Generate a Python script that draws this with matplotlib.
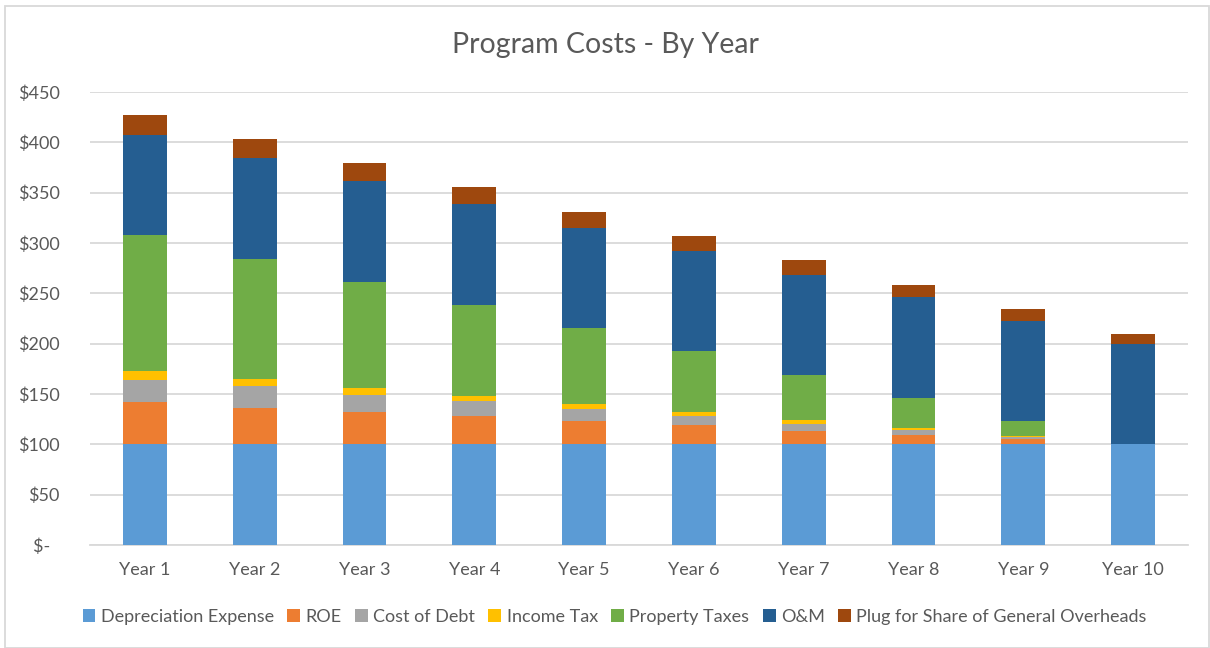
import numpy as np
import matplotlib
matplotlib.use("Agg")
from matplotlib import pyplot as plt
from matplotlib.patches import Rectangle

years = ["Year 1", "Year 2", "Year 3", "Year 4", "Year 5",
         "Year 6", "Year 7", "Year 8", "Year 9", "Year 10"]

depreciation = [100, 100, 100, 100, 100, 100, 100, 100, 100, 100]
roe = [42, 36.5, 32, 27.8, 23, 19, 13, 9, 5, 0]
cost_of_debt = [22, 21, 17, 15.2, 12, 9.5, 7.5, 5.5, 2.5, 0]
income_tax = [8.5, 7.7, 7.3, 5.3, 4.7, 3.5, 3.5, 1.5, 1, 0]
property_taxes = [135, 118.5, 104.7, 89.7, 75.5, 60.5, 45, 30.5, 15, 0]
o_and_m = [100, 101, 100.6, 100.7, 99.3, 99.5, 99.5, 99.5, 99.5, 100]
plug = [20, 18.5, 17.5, 16.6, 16.5, 15, 14.5, 12.5, 11, 10]

series = [
    ("Depreciation Expense", depreciation, "#5B9BD5"),
    ("ROE", roe, "#ED7D31"),
    ("Cost of Debt", cost_of_debt, "#A5A5A5"),
    ("Income Tax", income_tax, "#FFC000"),
    ("Property Taxes", property_taxes, "#70AD47"),
    ("O&M", o_and_m, "#255E91"),
    ("Plug for Share of General Overheads", plug, "#9E480E"),
]

y_ticks = [0, 50, 100, 150, 200, 250, 300, 350, 400, 450]
y_labels = ["$-  ", "$50", "$100", "$150", "$200", "$250",
            "$300", "$350", "$400", "$450"]

plt.rcParams["font.family"] = ["Lato", "DejaVu Sans"]
text_color = "#595959"
grid_color = "#D9D9D9"

fig = plt.figure(figsize=(12.1, 6.48), dpi=100)
ax = fig.add_axes([90 / 1210, 1 - 545 / 648, 1098 / 1210, 453 / 648])

x = np.arange(len(years))
bottom = np.zeros(len(years))
for name, values, color in series:
    vals = np.array(values, dtype=float)
    ax.bar(x, vals, width=0.4, bottom=bottom, color=color, label=name,
           zorder=3)
    bottom += vals

ax.set_xlim(-0.5, len(years) - 0.5)
ax.set_ylim(0, 450)
ax.set_yticks(y_ticks)
ax.set_yticklabels(y_labels)
ax.set_xticks(x)
ax.set_xticklabels(years)
ax.tick_params(axis="both", length=0, labelsize=13, colors=text_color)
ax.tick_params(axis="y", pad=22)
ax.tick_params(axis="x", pad=12)
ax.yaxis.grid(True, color=grid_color, linewidth=1.3, zorder=0)
for side in ["top", "right", "left"]:
    ax.spines[side].set_visible(False)
ax.spines["bottom"].set_color(grid_color)
ax.spines["bottom"].set_linewidth(1.3)

fig.text(0.5, 1 - 45 / 648, "Program Costs - By Year", ha="center",
         va="center", fontsize=20.5, color=text_color)

handles, labels = ax.get_legend_handles_labels()
leg = fig.legend(handles, labels, loc="center", ncol=7,
                 bbox_to_anchor=(0.508, 1 - 617 / 648), frameon=False,
                 fontsize=13, handlelength=0.7, handleheight=0.7,
                 handletextpad=0.3, columnspacing=0.75, labelcolor=text_color)

fig.patches.append(Rectangle((5 / 1210, 0), 1204 / 1210, 1 - 6 / 648,
                             transform=fig.transFigure, fill=False,
                             edgecolor=grid_color, linewidth=1.3))

fig.savefig("out.png", dpi=100)
